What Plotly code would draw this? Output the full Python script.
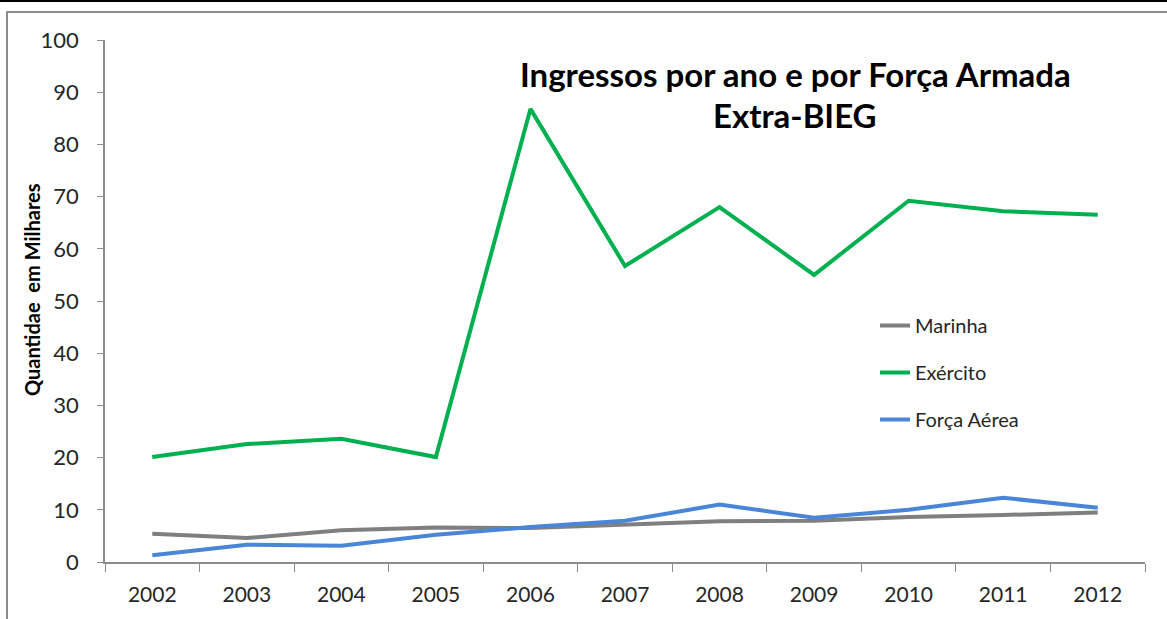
import plotly.graph_objects as go

years = ["2002", "2003", "2004", "2005", "2006", "2007", "2008", "2009", "2010", "2011", "2012"]
marinha = [5.4, 4.6, 6.1, 6.6, 6.5, 7.1, 7.8, 7.9, 8.6, 9.0, 9.5]
exercito = [20.1, 22.6, 23.6, 20.1, 86.8, 56.7, 68.0, 55.0, 69.2, 67.2, 66.5]
forca_aerea = [1.3, 3.3, 3.1, 5.2, 6.7, 7.9, 11.0, 8.5, 10.0, 12.3, 10.4]

series_names = ["Marinha", "Exército", "Força Aérea"]
colors = ["#7f7f7f", "#00b050", "#4a86d8"]
y_ticks = [0, 10, 20, 30, 40, 50, 60, 70, 80, 90, 100]

FONT = "Lato"

fig = go.Figure()
for name, vals, col in zip(series_names, [marinha, exercito, forca_aerea], colors):
    fig.add_trace(go.Scatter(x=years, y=vals, mode="lines", name=name,
                             legendgroup=name,
                             line=dict(color=col, width=4)))

fig.update_layout(
    width=1167, height=619,
    margin=dict(l=105, r=22, t=40, b=57),
    paper_bgcolor="white", plot_bgcolor="white",
    font=dict(family=FONT, color="#262626", size=21),
    showlegend=True,
    legend=dict(x=(875 - 105) / 1040, y=(562 - 306) / 522, xanchor="left", yanchor="top",
                bgcolor="rgba(0,0,0,0)", font=dict(size=20, color="#262626", family=FONT),
                tracegroupgap=18, itemwidth=30),
    xaxis=dict(type="category", range=[-0.5, 10.5], showline=True, linecolor="#8c8c8c",
               linewidth=1.5, ticks="outside", tickson="boundaries", ticklen=8,
               tickcolor="#8c8c8c", showgrid=False, zeroline=False, ticklabelstandoff=13,
               tickfont=dict(size=21, family=FONT, color="#262626")),
    yaxis=dict(range=[0, 100], tickvals=y_ticks, showline=True, linecolor="#8c8c8c",
               linewidth=1.5, ticks="outside", ticklen=6, tickcolor="#8c8c8c",
               showgrid=False, zeroline=False, ticklabelstandoff=14,
               tickfont=dict(size=22, family=FONT, color="#262626")),
)

# y-axis title
fig.add_annotation(text="<b>Quantidae  em Milhares</b>", xref="paper", yref="paper",
                   x=(32 - 105) / 1040, y=(562 - 290) / 522, xanchor="center", yanchor="middle",
                   textangle=-90, showarrow=False, font=dict(size=20, family=FONT, color="black"))

fig.add_annotation(text="<b>Ingressos por ano e por Força Armada</b>", xref="paper", yref="paper",
                   x=(795 - 105) / 1040, y=(562 - 74) / 522, xanchor="center", yanchor="middle",
                   showarrow=False, font=dict(size=33, family=FONT, color="black"))
fig.add_annotation(text="<b>Extra-BIEG</b>", xref="paper", yref="paper",
                   x=(795 - 105) / 1040, y=(562 - 115) / 522, xanchor="center", yanchor="middle",
                   showarrow=False, font=dict(size=33, family=FONT, color="black"))

# outer frame
fig.add_shape(type="line", xref="paper", yref="paper",
              x0=-105 / 1040, x1=1 + 22 / 1040, y0=1 + 39 / 522, y1=1 + 39 / 522,
              line=dict(color="black", width=2))
fig.add_shape(type="rect", xref="paper", yref="paper",
              x0=-98 / 1040, x1=1 + 40 / 1040, y0=-80 / 522, y1=1 + 28 / 522,
              line=dict(color="#8c8c8c", width=2), fillcolor="rgba(0,0,0,0)")

fig.write_html("out.html", config={"displayModeBar": False},
               post_script="document.body.style.margin='0px';")
